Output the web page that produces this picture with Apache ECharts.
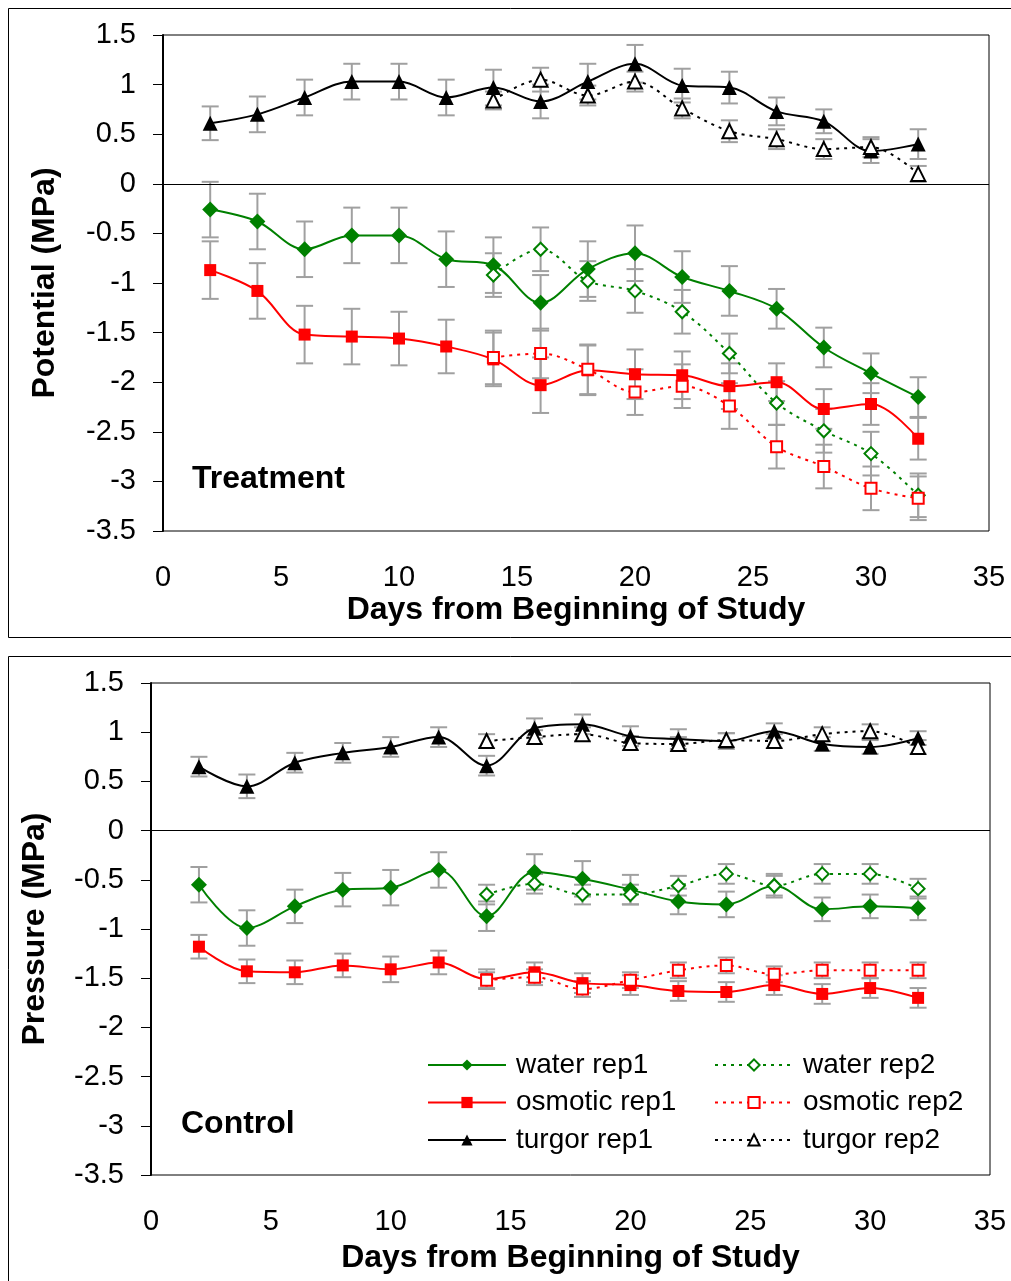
<!DOCTYPE html>
<html>
<head>
<meta charset="utf-8">
<script src="https://cdn.jsdelivr.net/npm/echarts@6/dist/echarts.min.js"></script>
<style>
html,body{margin:0;padding:0;background:#fff;}
#chart{width:1011px;height:1281px;}
</style>
</head>
<body>
<div id="chart"></div>
<script>
// ---------- DATA ----------
var daysRep1 = [2,4,6,8,10,12,14,16,18,20,22,24,26,28,30,32];
var daysRep2 = [14,16,18,20,22,24,26,28,30,32];
var xTicks = [0,5,10,15,20,25,30,35];

// Treatment panel
var trtWater1   = [-0.26,-0.38,-0.66,-0.52,-0.52,-0.76,-0.82,-1.20,-0.86,-0.70,-0.94,-1.08,-1.26,-1.65,-1.91,-2.15];
var trtWater1Err= [0.28,0.28,0.28,0.28,0.28,0.28,0.28,0.28,0.28,0.28,0.26,0.25,0.20,0.20,0.20,0.20];
var trtWater2   = [-0.92,-0.66,-0.98,-1.08,-1.29,-1.71,-2.21,-2.49,-2.72,-3.14];
var trtWater2Err= [0.22,0.22,0.20,0.22,0.22,0.20,0.22,0.22,0.22,0.22];
var trtOsm1     = [-0.87,-1.08,-1.52,-1.54,-1.56,-1.64,-1.77,-2.03,-1.88,-1.92,-1.93,-2.04,-2.00,-2.27,-2.22,-2.57];
var trtOsm1Err  = [0.29,0.28,0.29,0.28,0.27,0.27,0.27,0.28,0.25,0.25,0.24,0.23,0.19,0.20,0.21,0.21];
var trtOsm2     = [-1.75,-1.71,-1.87,-2.10,-2.04,-2.24,-2.65,-2.85,-3.07,-3.17];
var trtOsm2Err  = [0.27,0.25,0.25,0.23,0.22,0.23,0.22,0.22,0.22,0.22];
var trtTurg1    = [0.61,0.70,0.87,1.03,1.03,0.87,0.97,0.83,1.03,1.21,0.99,0.97,0.73,0.63,0.33,0.40];
var trtTurg1Err = [0.17,0.18,0.18,0.18,0.18,0.18,0.18,0.17,0.18,0.19,0.17,0.16,0.14,0.12,0.12,0.15];
var trtTurg2    = [0.84,1.05,0.89,1.03,0.76,0.53,0.45,0.35,0.37,0.10];
var trtTurg2Err = [0.09,0.12,0.10,0.10,0.10,0.11,0.10,0.10,0.10,0.08];

// Control panel
var ctlWater1   = [-0.55,-0.99,-0.77,-0.60,-0.58,-0.40,-0.87,-0.42,-0.49,-0.60,-0.72,-0.75,-0.56,-0.80,-0.77,-0.79];
var ctlWater1Err= [0.18,0.18,0.17,0.17,0.18,0.18,0.15,0.18,0.18,0.15,0.13,0.13,0.12,0.12,0.12,0.12];
var ctlWater2   = [-0.65,-0.54,-0.65,-0.65,-0.56,-0.44,-0.56,-0.44,-0.44,-0.59];
var ctlWater2Err= [0.10,0.10,0.10,0.10,0.10,0.10,0.10,0.10,0.10,0.10];
var ctlOsm1     = [-1.18,-1.43,-1.44,-1.37,-1.41,-1.34,-1.51,-1.44,-1.55,-1.57,-1.63,-1.64,-1.57,-1.66,-1.60,-1.70];
var ctlOsm1Err  = [0.12,0.12,0.12,0.12,0.13,0.12,0.10,0.10,0.10,0.10,0.10,0.10,0.10,0.10,0.10,0.10];
var ctlOsm2     = [-1.52,-1.49,-1.61,-1.52,-1.42,-1.37,-1.46,-1.42,-1.42,-1.42];
var ctlOsm2Err  = [0.08,0.08,0.08,0.08,0.08,0.08,0.08,0.08,0.08,0.08];
var ctlTurg1    = [0.65,0.45,0.69,0.79,0.85,0.95,0.66,1.04,1.08,0.96,0.93,0.91,1.01,0.88,0.85,0.94];
var ctlTurg1Err = [0.10,0.12,0.10,0.10,0.10,0.10,0.10,0.10,0.10,0.10,0.10,0.08,0.08,0.07,0.07,0.07];
var ctlTurg2    = [0.91,0.95,0.98,0.89,0.88,0.92,0.91,0.98,1.01,0.85];
var ctlTurg2Err = [0.07,0.07,0.07,0.07,0.07,0.07,0.07,0.07,0.07,0.07];

// ---------- BUILD ----------
var FONT = '"Liberation Sans", Arial, sans-serif';
var GREEN = '#008000', RED = '#ff0000', BLACK = '#000000', ERRC = '#a0a0a0';

function pairs(xs, ys){ return xs.map(function(x,i){ return [x, ys[i]]; }); }
function errData(xs, ys, es){ return xs.map(function(x,i){ return [x, ys[i]-es[i], ys[i]+es[i]]; }); }

function errRender(params, api){
  var x = api.value(0);
  var pLo = api.coord([x, api.value(1)]);
  var pHi = api.coord([x, api.value(2)]);
  var w = 8.5;
  var st = {stroke: ERRC, lineWidth: 2};
  return {type:'group', children:[
    {type:'line', shape:{x1:pLo[0],y1:pLo[1],x2:pHi[0],y2:pHi[1]}, style:st},
    {type:'line', shape:{x1:pLo[0]-w,y1:pLo[1],x2:pLo[0]+w,y2:pLo[1]}, style:st},
    {type:'line', shape:{x1:pHi[0]-w,y1:pHi[1],x2:pHi[0]+w,y2:pHi[1]}, style:st}
  ]};
}

var specs = [
  {name:'water rep1',   color:GREEN, symbol:'diamond',       size:16, dotted:false},
  {name:'water rep2',   color:GREEN, symbol:'emptyDiamond',  size:13, dotted:true},
  {name:'osmotic rep1', color:RED,   symbol:'rect',          size:12, dotted:false},
  {name:'osmotic rep2', color:RED,   symbol:'emptyRect',     size:11, dotted:true},
  {name:'turgor rep1',  color:BLACK, symbol:'triangle',      size:15, dotted:false},
  {name:'turgor rep2',  color:BLACK, symbol:'emptyTriangle', size:14, dotted:true}
];

var panels = [
  {vals:[trtWater1,trtWater2,trtOsm1,trtOsm2,trtTurg1,trtTurg2],
   errs:[trtWater1Err,trtWater2Err,trtOsm1Err,trtOsm2Err,trtTurg1Err,trtTurg2Err]},
  {vals:[ctlWater1,ctlWater2,ctlOsm1,ctlOsm2,ctlTurg1,ctlTurg2],
   errs:[ctlWater1Err,ctlWater2Err,ctlOsm1Err,ctlOsm2Err,ctlTurg1Err,ctlTurg2Err]}
];

var series = [];
panels.forEach(function(p, gi){
  specs.forEach(function(s, si){
    var xs = s.dotted ? daysRep2 : daysRep1;
    series.push({
      type:'custom', name: s.name + ' err', xAxisIndex:gi, yAxisIndex:gi,
      renderItem: errRender, data: errData(xs, p.vals[si], p.errs[si]),
      z: 1, silent:true, legendHoverLink:false
    });
  });
  specs.forEach(function(s, si){
    var xs = s.dotted ? daysRep2 : daysRep1;
    var ser = {
      type:'line', name:s.name, xAxisIndex:gi, yAxisIndex:gi,
      data: pairs(xs, p.vals[si]),
      smooth: 0.35,
      symbol: s.symbol, symbolSize: s.size, showAllSymbol:true,
      lineStyle:{color:s.color, width:2, type: s.dotted ? [3,5] : 'solid'},
      itemStyle:{color:s.color, borderColor:s.color, borderWidth: s.dotted ? 2 : 0},
      z: s.dotted ? 4 : 3, animation:false
    };
    if (si === 0) {
      ser.markLine = {silent:true, symbol:['none','none'], label:{show:false},
        lineStyle:{color:'#000', width:1, type:'solid'}, data:[{yAxis:0}], animation:false};
    }
    series.push(ser);
  });
});

function xAxisCfg(gi, labelMargin, nameGap){
  return {
    type:'value', gridIndex:gi, min:xTicks[0], max:xTicks[xTicks.length-1], interval:5,
    axisLine:{show:false}, axisTick:{show:false}, splitLine:{show:false},
    axisLabel:{color:'#000', fontSize:29, fontFamily:FONT, margin:labelMargin},
    name:'Days from Beginning of Study', nameLocation:'middle', nameGap:nameGap,
    nameTextStyle:{color:'#000', fontSize:32, fontWeight:'bold', fontFamily:FONT}
  };
}
function yAxisCfg(gi, name, nameGap){
  return {
    type:'value', gridIndex:gi, min:-3.5, max:1.5, interval:0.5,
    axisLine:{show:true, onZero:false, lineStyle:{color:'#000', width:2}},
    axisTick:{show:true, inside:false, length:10, lineStyle:{color:'#000', width:1}},
    splitLine:{show:false},
    axisLabel:{color:'#000', fontSize:29, fontFamily:FONT, margin:27},
    name:name, nameLocation:'middle', nameGap:nameGap, nameRotate:90,
    nameTextStyle:{color:'#000', fontSize:32, fontWeight:'bold', fontFamily:FONT}
  };
}

var legendCommon = {
  orient:'vertical', itemWidth:78, itemHeight:14, itemGap:9.5,
  textStyle:{color:'#000', fontSize:28, lineHeight:28, fontFamily:FONT, padding:[0,0,0,5]},
  selectedMode:false
};

var option = {
  backgroundColor:'#fff',
  animation:false,
  grid:[
    {left:163, top:35, width:826, height:496, show:true, borderColor:'#000', borderWidth:1, backgroundColor:'transparent'},
    {left:151, top:683, width:839, height:492, show:true, borderColor:'#000', borderWidth:1, backgroundColor:'transparent'}
  ],
  xAxis:[ xAxisCfg(0, 32, 63), xAxisCfg(1, 32, 67) ],
  yAxis:[ yAxisCfg(0,'Potential (MPa)', 102), yAxisCfg(1,'Pressure (MPa)', 100) ],
  legend:[
    Object.assign({left:422, top:1046, data:['water rep1','osmotic rep1','turgor rep1']}, legendCommon),
    Object.assign({left:709, top:1046, data:['water rep2','osmotic rep2','turgor rep2']}, legendCommon)
  ],
  graphic:[
    {type:'rect', shape:{x:8.5, y:8.5, width:1010, height:629}, style:{fill:'none', stroke:'#000', lineWidth:1}, silent:true},
    {type:'rect', shape:{x:8.5, y:656.5, width:1010, height:700}, style:{fill:'none', stroke:'#000', lineWidth:1}, silent:true},
    {type:'text', left:192, top:463, style:{text:'Treatment', font:'bold 32px ' + FONT, fill:'#000'}, silent:true},
    {type:'text', left:181, top:1108, style:{text:'Control', font:'bold 32px ' + FONT, fill:'#000'}, silent:true}
  ],
  series: series
};

var chart = echarts.init(document.getElementById('chart'), null, {renderer:'canvas'});
chart.setOption(option);
</script>
</body>
</html>
